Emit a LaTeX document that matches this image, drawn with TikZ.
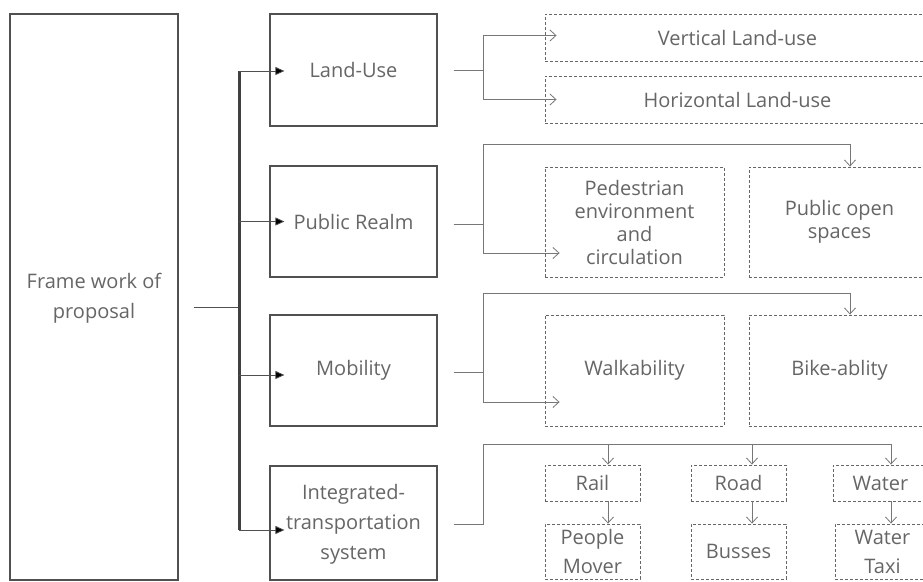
\documentclass[tikz,border=0pt]{standalone}
\usepackage{fontspec}
\setmainfont{Open Sans}
\usetikzlibrary{arrows.meta}
\definecolor{txt}{HTML}{666666}
\definecolor{bx}{HTML}{505050}
\definecolor{dsh}{HTML}{666666}
\definecolor{ln}{HTML}{777777}
\begin{document}
\begin{tikzpicture}[x=1pt,y=-1pt,
  solidbox/.style={draw=bx, line width=1.2pt, text=txt, align=center, inner sep=0pt,
    font=\fontsize{20}{30}\selectfont},
  dbox/.style={draw=dsh, dash pattern=on 3pt off 2pt, line width=0.9pt, text=txt,
    align=center, inner sep=0pt, font=\fontsize{20}{23}\selectfont},
  conn/.style={draw=ln, line width=0.8pt},
  openarr/.style={conn, -{Straight Barb[length=6pt,width=11pt]}},
  filledarr/.style={draw=bx, line width=0.8pt, -{Triangle[length=9pt,width=8pt,fill=black]}},
  bar/.style={draw=black!75, line width=3pt}
]
\useasboundingbox[fill=white] (0,0) rectangle (923,581);
\clip (0,0) rectangle (923,581);

% left frame
\node[solidbox, minimum width=168pt, minimum height=566pt] (frame) at (94,297)
  {\raisebox{-16pt}{\begin{tabular}{@{}c@{}}Frame work of\\proposal\end{tabular}}};

% middle boxes
\node[solidbox, minimum width=167pt, minimum height=112pt] (landuse) at (353.5,70) {Land-Use};
\node[solidbox, minimum width=167pt, minimum height=111pt] (realm) at (353.5,221.5) {Public Realm};
\node[solidbox, minimum width=167pt, minimum height=111pt] (mobility) at (353.5,370.5) {Mobility};
\node[solidbox, minimum width=167pt, minimum height=114pt] (its) at (353.5,523)
  {\raisebox{6pt}{\begin{tabular}{@{}c@{}}Integrated-\\transportation\\system\end{tabular}}};

% right dashed boxes
\node[dbox, minimum width=385pt, minimum height=47pt] (vert) at (737.5,37.5) {\raisebox{-7pt}{Vertical Land-use}};
\node[dbox, minimum width=385pt, minimum height=47pt] (horiz) at (737.5,99.5) {Horizontal Land-use};

\node[dbox, minimum width=179pt, minimum height=110pt] (ped) at (634.5,222)
  {Pedestrian\\environment\\and\\circulation};
\node[dbox, minimum width=181pt, minimum height=110pt] (pos) at (839.5,222)
  {Public open\\spaces};

\node[dbox, minimum width=179pt, minimum height=111pt] (walk) at (634.5,370.5) {Walkability};
\node[dbox, minimum width=181pt, minimum height=111pt] (bike) at (839.5,370.5) {Bike-ablity};

\node[dbox, minimum width=95pt, minimum height=36pt] (rail) at (592.5,483) {Rail};
\node[dbox, minimum width=95pt, minimum height=36pt] (road) at (738.5,483) {Road};
\node[dbox, minimum width=95pt, minimum height=36pt] (water) at (880.5,483) {Water};

\node[dbox, font=\fontsize{20}{29}\selectfont, minimum width=95pt, minimum height=55pt] (people) at (592.5,551.5) {People\\Mover};
\node[dbox, minimum width=95pt, minimum height=55pt] (busses) at (738.5,551.5) {Busses};
\node[dbox, font=\fontsize{20}{29}\selectfont, minimum width=95pt, minimum height=55pt] (taxi) at (882.5,551.5) {Water\\Taxi};

% trunk from frame
\coordinate (btop) at (239,71);
\coordinate (bj) at (239,307);
\coordinate (bb2) at (239,221.5);
\coordinate (bb3) at (239,375);
\coordinate (bbot) at (239,530);
\draw[conn, draw=bx] ([xshift=15pt]frame.east |- bj) -- (bj);
\draw[bar] (btop) -- (bbot);
\draw[filledarr] (btop) -- ([xshift=15pt]landuse.west |- btop);
\draw[filledarr] (bb2) -- ([xshift=15pt]realm.west);
\draw[filledarr] (bb3) -- ([xshift=15pt]mobility.west |- bb3);
\draw[filledarr] (bbot) -- ([xshift=15pt]its.west |- bbot);

% Land-use branch
\coordinate (luj) at (483,70);
\draw[conn] ([xshift=16pt]landuse.east) -- (luj);
\draw[openarr] (luj) |- ([xshift=12pt,yshift=2pt]vert.west);
\draw[openarr] (luj) |- ([xshift=12pt]horiz.west);

% Public realm branch
\coordinate (prj) at (483,224);
\coordinate (prtop) at (483,144);
\draw[conn] ([xshift=16pt]realm.east |- prj) -- (prj);
\draw[openarr] (prj) -- (prtop) -| ([xshift=10.5pt]pos.north);
\draw[openarr] (prj) |- ([xshift=15pt,yshift=-31pt]ped.west);

% Mobility branch
\coordinate (moj) at (483,372);
\coordinate (motop) at (483,293);
\draw[conn] ([xshift=16pt]mobility.east |- moj) -- (moj);
\draw[openarr] (moj) -- (motop) -| ([xshift=10.5pt]bike.north);
\draw[openarr] (moj) |- ([xshift=15pt,yshift=-31.5pt]walk.west);

% Integrated transportation branch
\coordinate (itj) at (483,524);
\coordinate (ittop) at (483,444);
\draw[conn] ([xshift=16pt]its.east |- itj) -- (itj) -- (ittop);
\draw[openarr] (ittop) -| ([xshift=15.5pt]rail.north);
\draw[openarr] (ittop) -| ([xshift=13.5pt]road.north);
\draw[openarr] (ittop) -| ([xshift=10.5pt]water.north);
\draw[openarr] ([xshift=15.5pt]rail.south) -- ([xshift=15.5pt]people.north);
\draw[openarr] ([xshift=13.5pt]road.south) -- ([xshift=13.5pt]busses.north);
\draw[openarr] ([xshift=10.5pt]water.south) -- ([xshift=8.5pt]taxi.north);
\end{tikzpicture}
\end{document}
